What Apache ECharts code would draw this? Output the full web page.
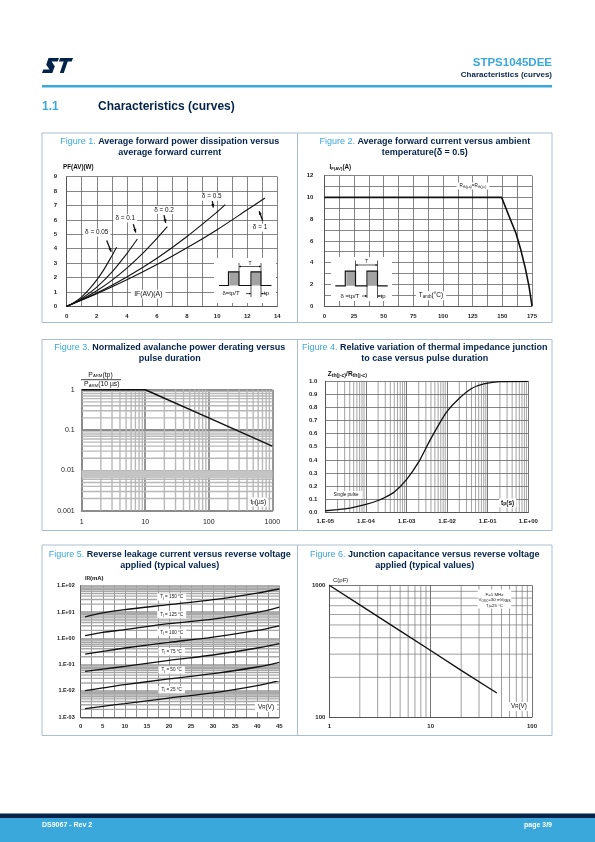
<!DOCTYPE html>
<html>
<head>
<meta charset="utf-8">
<title>STPS1045DEE - Characteristics (curves)</title>
<script src="https://cdn.jsdelivr.net/npm/echarts@6.0.0/dist/echarts.min.js"></script>
<style>
html,body{margin:0;padding:0;background:#ffffff;}
#page{width:595px;height:842px;}
</style>
</head>
<body>
<div id="page"></div>
<script>
// ---------------- DATA ----------------
// Figure 1: PF(AV) (W) versus IF(AV) (A), one curve per duty cycle
const fig1Delta005 = [[0,0],[0.5,0.27],[1,0.66],[1.5,1.19],[2,1.83],[2.5,2.6],[3,3.5],[3.32,4.1]];
const fig1Delta01  = [[0,0],[0.5,0.24],[1,0.54],[2,1.33],[3,2.37],[4,3.66],[4.7,4.67]];
const fig1Delta02  = [[0,0],[1,0.48],[2,1.08],[3,1.8],[4,2.65],[5,3.62],[6,4.72],[6.69,5.53]];
const fig1Delta05  = [[0,0],[2,0.92],[4,2.04],[6,3.34],[8,4.85],[10,6.55],[10.54,7.06]];
const fig1Delta1   = [[0,0],[2,0.87],[4,1.84],[6,2.9],[8,4.06],[10,5.32],[12,6.7],[13.18,7.52]];
const fig1Labels   = ['δ = 0.05','δ = 0.1','δ = 0.2','δ = 0.5','δ = 1'];

// Figure 2: IF(AV) (A) versus Tamb (°C)
const fig2Temp    = [0, 149.4, 155, 161.5, 165.5, 169.4, 172.5, 175];
const fig2Current = [10, 10, 8.45, 6.7, 5.2, 3.47, 1.8, 0];

// Figure 3: PARM(tp)/PARM(10 µs) versus tp (µs)
const fig3Tp    = [1, 10, 100, 1000];
const fig3Ratio = [1, 1, 0.2, 0.04];
const fig3Band  = [0.0065, 0.01];

// Figure 4: Zth(j-c)/Rth(j-c) versus tp (s)
const fig4Tp = [1e-5,2e-5,3e-5,5e-5,1e-4,2e-4,3e-4,5e-4,1e-3,2e-3,3.5e-3,6e-3,1e-2,2e-2,4e-2,8e-2,0.2,1];
const fig4Z  = [0.012,0.02,0.026,0.037,0.06,0.09,0.115,0.155,0.25,0.385,0.53,0.66,0.77,0.87,0.945,0.98,0.998,1];

// Figure 5: IR (mA) versus VR (V)
const fig5Vr    = [1, 5, 10, 20, 30, 40, 45];
const fig5Tj150 = [6.5, 9.2, 12.3, 19, 29.4, 52.6, 75];
const fig5Tj125 = [1.26, 1.69, 2.13, 3.6, 5.4, 9.7, 15.5];
const fig5Tj100 = [0.25, 0.32, 0.43, 0.70, 1.12, 2.0, 3.0];
const fig5Tj75  = [0.056, 0.068, 0.086, 0.146, 0.233, 0.43, 0.63];
const fig5Tj50  = [0.0103, 0.013, 0.0174, 0.0286, 0.0455, 0.0815, 0.123];
const fig5Tj25  = [0.00213, 0.00262, 0.0033, 0.0054, 0.0084, 0.0159, 0.0247];
const fig5Labels = ['150','125','100','75','50','25'];

// Figure 6: C (pF) versus VR (V)
const fig6Vr = [1, 2, 5, 10, 20, 45];
const fig6C  = [1000, 710, 451, 320, 226, 152];

// ---------------- STYLE / HELPERS ----------------
const FONT = '"Liberation Sans", Arial, Helvetica, sans-serif';
const NAVY = '#03234b';
const BLUE = '#3aa8db';
const G = [];

function T(text, x, y, o) {
  o = o || {};
  const st = {
    text: text, fill: o.fill || '#111', fontSize: o.size || 6, fontWeight: o.weight || 'bold',
    fontFamily: FONT, textAlign: o.align || 'center', textVerticalAlign: o.valign || 'middle',
    align: o.align || 'center', verticalAlign: o.valign || 'middle'
  };
  if (o.bg) { st.backgroundColor = o.bg; st.padding = o.pad || [1, 2, 1, 2]; }
  if (o.rich) st.rich = o.rich;
  G.push({type: 'text', x: x, y: y, z: o.z || 60, silent: true, style: st});
}
function R(x, y, w, h, fill, stroke, lw, z) {
  G.push({type: 'rect', z: z == null ? 5 : z, silent: true, shape: {x: x, y: y, width: w, height: h},
    style: {fill: fill || 'none', stroke: stroke || 'none', lineWidth: lw || 0}});
}
function Ln(x1, y1, x2, y2, stroke, lw, z) {
  G.push({type: 'line', z: z == null ? 62 : z, silent: true, shape: {x1: x1, y1: y1, x2: x2, y2: y2},
    style: {stroke: stroke || '#111', lineWidth: lw || 1}});
}
function PG(points, fill, z) {
  G.push({type: 'polygon', z: z == null ? 62 : z, silent: true, shape: {points: points}, style: {fill: fill}});
}
function PL(points, stroke, lw, z) {
  G.push({type: 'polyline', z: z == null ? 62 : z, silent: true, shape: {points: points},
    style: {stroke: stroke, lineWidth: lw, fill: 'none'}});
}
function arrow(x1, y1, x2, y2, hs, lw) {
  hs = hs || 3;
  Ln(x1, y1, x2, y2, '#111', lw || 1);
  const a = Math.atan2(y2 - y1, x2 - x1), c = Math.cos(a), s = Math.sin(a), w = hs * 0.45;
  PG([[x2, y2], [x2 - hs * c + w * s, y2 - hs * s - w * c], [x2 - hs * c - w * s, y2 - hs * s + w * c]], '#111');
}
function sub(size, weight) {
  return {s: {fontSize: size, fontFamily: FONT, fontWeight: weight || 'bold', fill: '#111', verticalAlign: 'bottom'}};
}
function pulseInset(o) {
  R(o.bx, o.by, o.bw, o.bh, '#fff', null, 0, 58);
  R(o.p1[0] + 1, o.top, o.p1[1] - o.p1[0] - 1, o.base - o.top, '#a3a3a3', null, 0, 59);
  R(o.p2[0] + 1, o.top, o.p2[1] - o.p2[0] - 1, o.base - o.top, '#a3a3a3', null, 0, 59);
  PL([[o.x0, o.base], [o.p1[0], o.base], [o.p1[0], o.top], [o.p1[1], o.top], [o.p1[1], o.base],
      [o.p2[0], o.base], [o.p2[0], o.top], [o.p2[1], o.top], [o.p2[1], o.base], [o.x1, o.base]], '#111', 1.2);
  Ln(o.p1[1], o.tTop, o.p1[1], o.top, '#111', 0.7);
  Ln(o.p2[1], o.tTop, o.p2[1], o.top, '#111', 0.7);
  const mid = (o.p1[1] + o.p2[1]) / 2;
  arrow(mid, o.tY, o.p1[1], o.tY, 2, 0.7);
  arrow(mid, o.tY, o.p2[1], o.tY, 2, 0.7);
  T('T', mid, o.tY - 3, {size: 5, weight: 'normal'});
  Ln(o.p2[0], o.base, o.p2[0], o.tpBottom, '#111', 0.7);
  Ln(o.p2[1], o.base, o.p2[1], o.tpBottom, '#111', 0.7);
  arrow(o.p2[0] - 5, o.tpY, o.p2[0], o.tpY, 2, 0.7);
  arrow(o.p2[1] + 5, o.tpY, o.p2[1], o.tpY, 2, 0.7);
  T('tp', o.tpX, o.tpY, {size: 6, weight: 'normal', align: 'left'});
  T(o.dText, o.dX, o.tpY, {size: 6, weight: 'normal'});
}
function logMinors(lo, hi) {
  const out = [];
  for (let e = lo; e < hi; e++) for (let k = 2; k <= 9; k++) out.push(k * Math.pow(10, e));
  return out;
}
function num(v) { return String(+(+v).toPrecision(6)); }
function expo(v) {
  const e = Math.round(Math.log10(v));
  return '1.E' + (e < 0 ? '-' : '+') + String(Math.abs(e)).padStart(2, '0');
}

// ---------------- PAGE DECORATION ----------------
// ST logo
(function () {
  const ox = 42, oy = 58;
  const S = [[6.5,0],[17,0],[15.7,3.6],[9.6,3.6],[12.8,8.2],[10.3,15],[0,15],[1.3,11.4],[7.5,11.4],[4.2,6.8]];
  const Tt = [[18.2,0],[31,0],[29.7,3.6],[25.7,3.6],[21.8,15],[17.8,15],[21.7,3.6],[16.9,3.6]];
  PG(S.map(p => [ox + p[0], oy + p[1]]), NAVY, 10);
  PG(Tt.map(p => [ox + p[0], oy + p[1]]), NAVY, 10);
})();
T('STPS1045DEE', 552, 62.5, {size: 11.5, fill: BLUE, align: 'right'});
T('Characteristics (curves)', 552, 75, {size: 8, fill: NAVY, align: 'right'});
R(42, 85, 510, 2.6, BLUE, null, 0, 10);
T('1.1', 42, 107, {size: 12, fill: BLUE, align: 'left'});
T('Characteristics (curves)', 98, 107, {size: 12, fill: NAVY, align: 'left'});

// footer
R(0, 813.5, 595, 4.8, NAVY, null, 0, 10);
R(0, 818, 595, 24, BLUE, null, 0, 10);
T('DS9067 - Rev 2', 42, 825, {size: 7, fill: '#fff', align: 'left'});
T('page 3/9', 552, 825, {size: 7, fill: '#fff', align: 'right'});

// figure cells
const rowTop = [133, 339.5, 545], rowBot = [322.5, 530.5, 735.5];
const CELL = '#a9bfd1';
for (let r = 0; r < 3; r++) {
  R(42, rowTop[r], 255.5, rowBot[r] - rowTop[r], 'none', CELL, 1, 3);
  R(297.5, rowTop[r], 254.5, rowBot[r] - rowTop[r], 'none', CELL, 1, 3);
}
// titles
const titleRich = {f: {fill: BLUE, fontSize: 9, fontWeight: 'normal', fontFamily: FONT}};
const titles = [
  ['Figure 1.', ' Average forward power dissipation versus', 'average forward current', 169.75, 141.7, 152.4],
  ['Figure 2.', ' Average forward current versus ambient', 'temperature(δ = 0.5)', 424.75, 141.7, 152.4],
  ['Figure 3.', ' Normalized avalanche power derating versus', 'pulse duration', 169.75, 348, 358.6],
  ['Figure 4.', ' Relative variation of thermal impedance junction', 'to case versus pulse duration', 424.75, 348, 358.6],
  ['Figure 5.', ' Reverse leakage current versus reverse voltage', 'applied (typical values)', 169.75, 554.2, 565.4],
  ['Figure 6.', ' Junction capacitance versus reverse voltage', 'applied (typical values)', 424.75, 554.2, 565.4]
];
titles.forEach(t => {
  T('{f|' + t[0] + '}' + t[1], t[3], t[4], {size: 9, fill: NAVY, rich: titleRich});
  T(t[2], t[3], t[5], {size: 9, fill: NAVY});
});

// ---- Figure 1 annotations ----
T('PF(AV)(W)', 63, 167.5, {size: 6.3, align: 'left'});
const f1Lab = [[96.7, 232.7], [125.3, 218.3], [164, 210], [211.7, 196.7], [260, 227.7]];
fig1Labels.forEach((s, i) => T(s, f1Lab[i][0], f1Lab[i][1], {size: 6.4, weight: 'normal', bg: '#fff'}));
arrow(106.7, 240.5, 111.2, 251.7, 3.5, 1.3);
arrow(133.3, 224.3, 135.8, 232.5, 3.5, 1.3);
arrow(164, 215.2, 165.7, 222.8, 3.5, 1.3);
arrow(212.3, 201.2, 213.3, 207.5, 3.5, 1.3);
arrow(262.7, 220.8, 259.2, 211.2, 3.5, 1.3);
T('IF(AV)(A)', 148.3, 294.3, {size: 6.8, weight: 'normal', bg: '#fff', pad: [1, 3, 1, 3]});
pulseInset({bx: 214, by: 258, bw: 62, bh: 45, base: 285.5, x0: 219, x1: 271.5, top: 271.8,
  p1: [228.5, 239], p2: [251, 261], tTop: 263, tY: 266.5, tpBottom: 297, tpY: 293.6, tpX: 264, dX: 231, dText: 'δ=tp/T'});

// ---- Figure 2 annotations ----
T('I{s|F(AV)}(A)', 329.5, 167.7, {size: 6.3, align: 'left', rich: sub(4.3)});
T('R{s|th(j-a)}=R{s|th(j-c)}', 473, 186, {size: 4.6, weight: 'normal', bg: '#fff', pad: [1, 3, 1, 3], rich: sub(3.4, 'normal')});
T('T{s|amb}(°C)', 431, 295.7, {size: 6.5, weight: 'normal', bg: '#fff', pad: [1, 3, 1, 3], rich: sub(4.5, 'normal')});
pulseInset({bx: 331, by: 257, bw: 61, bh: 44, base: 285.8, x0: 335.3, x1: 387.7, top: 271.2,
  p1: [345.3, 355.5], p2: [367, 377.5], tTop: 260.5, tY: 265, tpBottom: 298, tpY: 296, tpX: 380.5, dX: 350, dText: 'δ =tp/T'});

// ---- Figure 3 annotations ----
T('P{s|ARM}(tp)', 100.5, 374.7, {size: 6.8, weight: 'normal', rich: sub(4.3, 'normal')});
Ln(81, 379.7, 121, 379.7, '#111', 0.8);
T('P{s|ARM}(10 µs)', 101.8, 384, {size: 6.8, weight: 'normal', rich: sub(4.3, 'normal')});
T('t{s|p}(µs)', 258.3, 502, {size: 6.5, weight: 'normal', bg: '#fff', pad: [1, 2, 1, 2], rich: sub(4.5, 'normal')});

// ---- Figure 4 annotations ----
T('Z{s|th(j-c)}/R{s|th(j-c)}', 327.7, 374.7, {size: 6.5, align: 'left', rich: sub(5.2)});
T('Single pulse', 346, 495, {size: 4.6, weight: 'normal', bg: '#fff', pad: [1.5, 4, 1.5, 4]});
T('t{s|p}(s)', 507.7, 503, {size: 6.5, bg: '#fff', pad: [1, 2, 1, 2], rich: sub(5)});

// ---- Figure 5 annotations ----
T('I{s|R}(mA)', 85, 578.7, {size: 6, align: 'left', rich: sub(4.5)});
const f5LabY = [597, 614.7, 632.3, 651.7, 670, 689.7];
fig5Labels.forEach((s, i) => T('T{s|j} = ' + s + ' °C', 171.7, f5LabY[i], {size: 4.6, weight: 'normal', bg: '#fff', pad: [1.2, 3, 1.2, 3], rich: sub(3.6, 'normal')}));
T('V{s|R}(V)', 266, 707, {size: 6.5, weight: 'normal', bg: '#fff', pad: [1.5, 3, 1.5, 3], rich: sub(4.5, 'normal')});

// ---- Figure 6 annotations ----
T('C(pF)', 333, 580.3, {size: 6, weight: 'normal', align: 'left'});
R(477.7, 589.5, 33.5, 19, '#fff', null, 0, 58);
T('F=1 MHz', 494.5, 594.8, {size: 4.4, weight: 'normal'});
T('V{s|OSC}=30 mV{s|RMS}', 494.5, 600.2, {size: 4.4, weight: 'normal', rich: sub(3.2, 'normal')});
T('T{s|j}=25 °C', 494.5, 605.4, {size: 4.4, weight: 'normal', rich: sub(3.2, 'normal')});
T('V{s|R}(V)', 519, 706.5, {size: 6.3, weight: 'normal', bg: '#fff', pad: [1.5, 2, 1.5, 2], rich: sub(4.5, 'normal')});

// ---------------- CHART ----------------
const grids = [
  {left: 66.7, top: 176.7, width: 210.6, height: 129.6},
  {left: 324.3, top: 175.7, width: 207.7, height: 130.3},
  {left: 81.7, top: 389.7, width: 190.6, height: 121},
  {left: 325.3, top: 381.3, width: 203, height: 131},
  {left: 80.7, top: 585.7, width: 198.6, height: 131.6},
  {left: 329.3, top: 585.3, width: 202.7, height: 131.7}
].map(g => Object.assign({show: false, containLabel: false, outerBoundsMode: 'none'}, g));

function lab(size, weight, margin, fmt) {
  return {show: true, fontSize: size, fontWeight: weight, color: '#222', fontFamily: FONT, margin: margin, formatter: fmt,
    showMinLabel: true, showMaxLabel: true, hideOverlap: false};
}
function ax(gi, type, min, max, extra) {
  return Object.assign({
    gridIndex: gi, type: type, min: min, max: max,
    axisLine: {show: true, onZero: false, lineStyle: {color: '#555', width: 1}},
    axisTick: {show: false},
    minorTick: {show: false},
    splitLine: {show: true, showMinLine: true, showMaxLine: true, lineStyle: {color: '#666', width: 0.8}}
  }, extra);
}
function minorLines(gi, dir, vals, anchor, color, w) {
  return {
    type: 'custom', xAxisIndex: gi, yAxisIndex: gi, silent: true, z: 1, clip: false,
    data: vals.map(v => dir === 'v' ? [v, anchor] : [anchor, v]),
    renderItem: function (params, api) {
      const cs = params.coordSys;
      const p = api.coord([api.value(0), api.value(1)]);
      const shape = dir === 'v'
        ? {x1: p[0], y1: cs.y, x2: p[0], y2: cs.y + cs.height}
        : {x1: cs.x, y1: p[1], x2: cs.x + cs.width, y2: p[1]};
      return {type: 'line', shape: shape, style: {stroke: color, lineWidth: w}};
    }
  };
}
function line(gi, data, w, smooth) {
  return {type: 'line', xAxisIndex: gi, yAxisIndex: gi, data: data, showSymbol: false, symbol: 'none',
    smooth: smooth || false, silent: true, z: 3, lineStyle: {color: '#111', width: w || 1.2}};
}
const zip = (a, b) => a.map((v, i) => [v, b[i]]);

const xAxes = [
  ax(0, 'value', 0, 14, {interval: 1, axisLabel: lab(6, 'bold', 7, v => v % 2 === 0 ? String(v) : '')}),
  ax(1, 'value', 0, 175, {interval: 12.5, axisLabel: lab(6, 'bold', 7, v => v % 25 === 0 ? String(v) : '')}),
  ax(2, 'log', 1, 1000, {logBase: 10, axisLine: {show: true, onZero: false, lineStyle: {color: '#8c8c8c', width: 2}},
    splitLine: {show: true, lineStyle: {color: '#8c8c8c', width: 1.8}}, axisLabel: lab(7, 'normal', 8, num)}),
  ax(3, 'log', 1e-5, 1, {logBase: 10, splitLine: {show: true, lineStyle: {color: '#555', width: 0.8}}, axisLabel: lab(6, 'bold', 6, expo)}),
  ax(4, 'value', 0, 45, {interval: 2.5, splitLine: {show: true, lineStyle: {color: '#777', width: 0.8}},
    axisLabel: lab(6, 'bold', 6, v => v % 5 === 0 ? String(v) : '')}),
  ax(5, 'log', 1, 100, {logBase: 10, splitLine: {show: true, lineStyle: {color: '#666', width: 0.9}}, axisLabel: lab(6, 'bold', 6, num)})
];
const yAxes = [
  ax(0, 'value', 0, 9, {interval: 1, axisLabel: lab(6, 'bold', 9.5, num)}),
  ax(1, 'value', 0, 12, {interval: 1, axisLabel: lab(6, 'bold', 11, v => v % 2 === 0 ? String(v) : '')}),
  ax(2, 'log', 0.001, 1, {logBase: 10, axisLine: {show: true, onZero: false, lineStyle: {color: '#8c8c8c', width: 2}},
    splitLine: {show: true, lineStyle: {color: '#8c8c8c', width: 1.8}}, axisLabel: lab(7, 'normal', 7, num)}),
  ax(3, 'value', 0, 1, {interval: 0.1, axisLabel: lab(6, 'bold', 8, v => (+v).toFixed(1))}),
  ax(4, 'log', 0.001, 100, {logBase: 10, splitLine: {show: true, lineStyle: {color: '#999', width: 1.5}}, axisLabel: lab(5.5, 'bold', 6, expo)}),
  ax(5, 'log', 100, 1000, {logBase: 10, splitLine: {show: true, lineStyle: {color: '#666', width: 0.9}}, axisLabel: lab(6, 'bold', 4, num)})
];

const series = [
  // log-scale minor grid lines
  minorLines(2, 'v', logMinors(0, 3), 0.001, '#b8b8b8', 1.4),
  minorLines(2, 'h', logMinors(-3, 0), 1, '#b8b8b8', 1.4),
  {type: 'custom', xAxisIndex: 2, yAxisIndex: 2, silent: true, z: 1, clip: false,
    data: [[1, fig3Band[0], fig3Band[1]]],
    renderItem: function (params, api) {
      const cs = params.coordSys;
      const a = api.coord([api.value(0), api.value(1)]), b = api.coord([api.value(0), api.value(2)]);
      return {type: 'rect', shape: {x: cs.x, y: b[1], width: cs.width, height: a[1] - b[1]}, style: {fill: '#c4c4c4'}};
    }},
  minorLines(3, 'v', logMinors(-5, 0), 0.5, '#666', 0.6),
  minorLines(4, 'h', logMinors(-3, 2), 0, '#a8a8a8', 1.4),
  minorLines(5, 'v', logMinors(0, 2), 100, '#777', 0.7),
  minorLines(5, 'h', logMinors(2, 3), 1, '#777', 0.7),
  // Figure 1
  line(0, fig1Delta005, 1.1, 0.3),
  line(0, fig1Delta01, 1.1, 0.3),
  line(0, fig1Delta02, 1.1, 0.3),
  line(0, fig1Delta05, 1.1, 0.3),
  line(0, fig1Delta1, 1.1, 0.3),
  // Figure 2
  line(1, zip(fig2Temp, fig2Current), 1.6, false),
  // Figure 3
  line(2, zip(fig3Tp, fig3Ratio), 1.5, false),
  // Figure 4
  line(3, zip(fig4Tp, fig4Z), 1.3, 0.3),
  // Figure 5
  line(4, zip(fig5Vr, fig5Tj150), 1.3, 0.3),
  line(4, zip(fig5Vr, fig5Tj125), 1.3, 0.3),
  line(4, zip(fig5Vr, fig5Tj100), 1.3, 0.3),
  line(4, zip(fig5Vr, fig5Tj75), 1.3, 0.3),
  line(4, zip(fig5Vr, fig5Tj50), 1.3, 0.3),
  line(4, zip(fig5Vr, fig5Tj25), 1.3, 0.3),
  // Figure 6
  line(5, zip(fig6Vr, fig6C), 1.3, false)
];

const chart = echarts.init(document.getElementById('page'), null, {renderer: 'canvas', width: 595, height: 842});
chart.setOption({
  animation: false,
  backgroundColor: '#ffffff',
  tooltip: {show: false},
  grid: grids,
  xAxis: xAxes,
  yAxis: yAxes,
  series: series,
  graphic: G
});
</script>
</body>
</html>
